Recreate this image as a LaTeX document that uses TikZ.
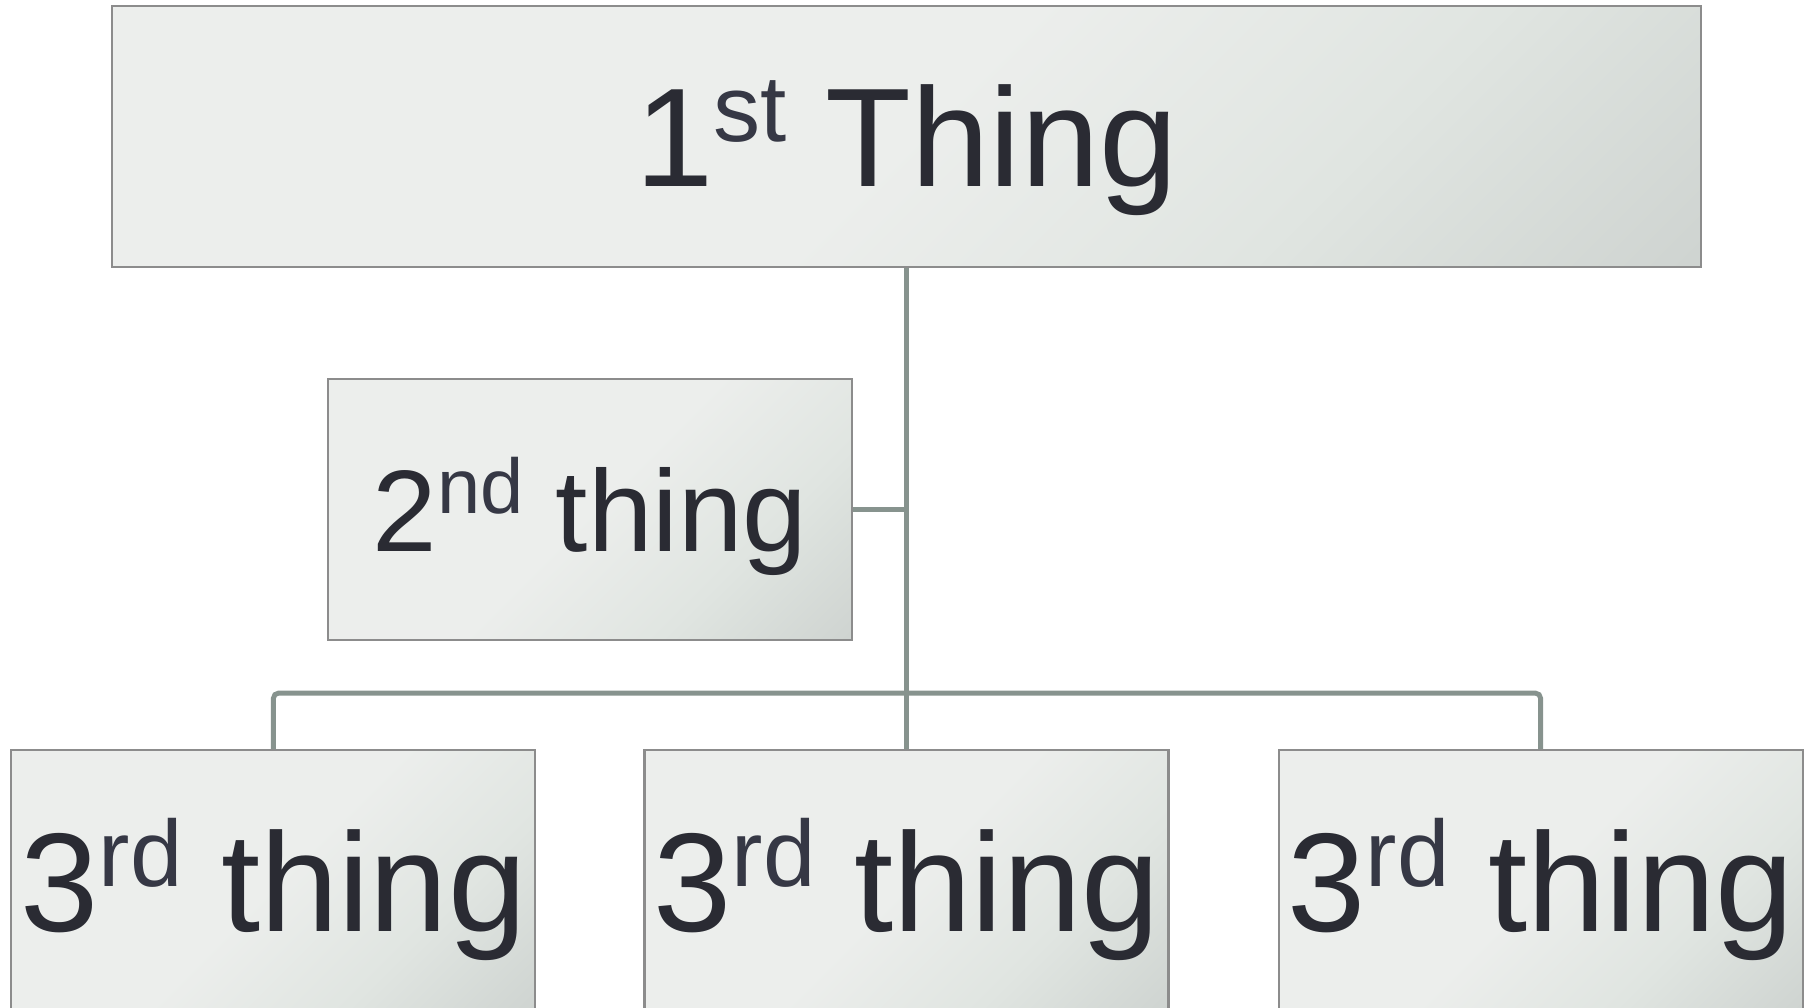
\documentclass[tikz,border=0pt]{standalone}
\usepackage{fontspec}
\setmainfont{Liberation Sans}
\usepackage{xcolor}
\usepackage{tikz}
\usetikzlibrary{positioning}

\definecolor{boxlight}{HTML}{ECEEEC}
\definecolor{boxmid}{HTML}{E0E5E1}
\definecolor{boxdark}{HTML}{CED3D0}
\definecolor{boxline}{HTML}{8C8C8C}
\definecolor{linkgray}{HTML}{87938E}
\definecolor{inkdark}{HTML}{2A2B33}
\definecolor{inksup}{HTML}{363845}

\pgfdeclarehorizontalshading{thingshade}{100bp}{color(0bp)=(boxlight); color(50bp)=(boxlight); color(68bp)=(boxmid); color(86bp)=(boxdark); color(100bp)=(boxdark)}

% ordinal suffix, raised and smaller
\newcommand{\ordsup}[1]{\raisebox{0.32em}{\scalebox{0.67}{\textcolor{inksup}{#1}}}}

\begin{document}
\begin{tikzpicture}[
    thingbox/.style={rectangle, draw=boxline, line width=0.6pt, shading=thingshade, shading angle=-45, minimum width=5.24cm, minimum height=2.61cm, inner sep=0pt, align=center, text=inkdark},
    bigtext/.style={font=\fontsize{40}{48}\selectfont, text height=28.6pt, text depth=0pt},
    midtext/.style={font=\fontsize{33}{40}\selectfont, text height=23.6pt, text depth=0pt},
    link/.style={draw=linkgray, line width=1.4pt, rounded corners=1.5pt}
]
\useasboundingbox (0,0) rectangle (18.06,-10.08);

% Top level
\node[thingbox, bigtext, minimum width=15.89cm] (first) at (9.065,-1.365) {1\ordsup{st} Thing};

% Levels below
\node[thingbox, midtext, below=1.1cm of first, xshift=-3.165cm] (second) {2\ordsup{nd} thing};
\node[thingbox, bigtext, below=4.81cm of first, minimum height=2.63cm] (thirdb) {3\ordsup{rd} thing};
\node[thingbox, bigtext, left=1.07cm of thirdb, minimum height=2.63cm] (thirda) {3\ordsup{rd} thing};
\node[thingbox, bigtext, right=1.08cm of thirdb, minimum height=2.63cm] (thirdc) {3\ordsup{rd} thing};

% Connectors
\draw[link] (first.south) -- (thirdb.north);
\draw[link] (second.east) -- (second.east -| first.south);
\draw[link] (thirda.north) -- ++(0,0.56) -| (thirdc.north);

\end{tikzpicture}
\end{document}
